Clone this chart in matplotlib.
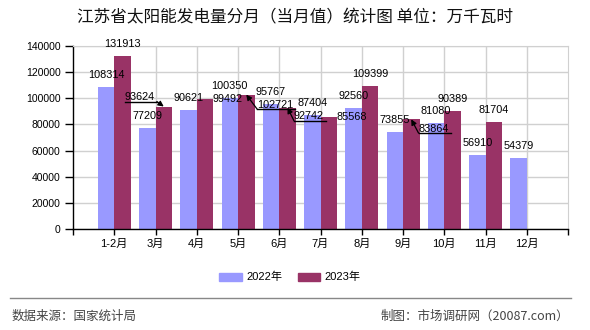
import matplotlib
matplotlib.use('Agg')
import matplotlib.pyplot as plt
from matplotlib.patches import Patch
from matplotlib.lines import Line2D
import numpy as np

plt.rcParams['font.family'] = ['Liberation Sans', 'Noto Sans CJK SC']

# ---- data ----
months = ['1-2月', '3月', '4月', '5月', '6月', '7月', '8月', '9月', '10月', '11月', '12月']
v2022 = [108314, 77209, 90621, 100350, 95767, 87404, 92560, 73855, 81080, 56910, 54379]
v2023 = [131913, 93624, 99492, 102721, 92742, 85568, 109399, 83864, 90389, 81704]
series_names = ['2022年', '2023年']
yticks = [0, 20000, 40000, 60000, 80000, 100000, 120000, 140000]
title = '江苏省太阳能发电量分月（当月值）统计图 单位：万千瓦时'
source = '数据来源：国家统计局'
credit = '制图：市场调研网（20087.com）'

# ---- style ----
c22 = '#9999FF'
c23 = '#993366'
grid_c = '#D0D0D0'
W, H = 590, 330

fig = plt.figure(figsize=(W / 100, H / 100), dpi=100)
ax = fig.add_axes([73 / W, (H - 229.3) / H, 495 / W, 183.6 / H])

x = np.arange(len(months))
w = 0.4
ax.bar(x - w / 2, v2022, w, color=c22, zorder=2)
x23 = x[:len(v2023)] + w / 2
ax.bar(x23, v2023, w, color=c23, zorder=2)

ax.set_xlim(-1, len(months))
ax.set_ylim(yticks[0], yticks[-1])
ax.set_yticks(yticks)
ax.set_yticklabels([str(t) for t in yticks])
ax.yaxis.grid(True, color=grid_c, lw=1, zorder=0)
ax.set_axisbelow(True)
for i in range(1, len(months)):
    ax.axvline(i, color=grid_c, lw=1, zorder=0)
ax.set_xticks(np.arange(-1, len(months) + 1))
ax.set_xticklabels([''] + months + [''])

for s in ['top', 'right']:
    ax.spines[s].set_color(grid_c)
for s in ['left', 'bottom']:
    ax.spines[s].set_color('black')
    ax.spines[s].set_linewidth(1)
ax.tick_params(axis='y', length=6, width=1, pad=3, labelsize=7.5)
ax.tick_params(axis='x', length=4, width=1, pad=3, labelsize=8)

# ---- value labels ----
special = {
    (1, 1): (-24, 9.5, 'right'),
    (1, 2): (22.5, 0, None),
    (1, 3): (29, -10, 'left'),
    (1, 4): (21.5, -8.6, 'left'),
    (1, 5): (23, 0, None),
    (1, 7): (22.5, -9.3, 'left'),
}
arrow_items = []
for si, (vals, xs) in enumerate([(v2022, x - w / 2), (v2023, x23)]):
    for i, v in enumerate(vals):
        dx, dy, side = special.get((si, i), (0, 12, None))
        t = ax.annotate(str(v), xy=(xs[i], v), xytext=(dx, dy), textcoords='offset pixels',
                        ha='center', va='center', fontsize=7.8, color='black', zorder=5)
        if side is not None:
            arrow_items.append((t, xs[i], v, side))

# ---- title / legend / footer ----
fig.text(295 / W, 1 - 17.5 / H, title, ha='center', va='center', fontsize=12,
         fontweight='medium', color='#111111', family=['Noto Sans CJK SC', 'DejaVu Sans'])

fig.legend(handles=[Patch(color=c22), Patch(color=c23)], labels=series_names,
           loc='center', bbox_to_anchor=(290 / W, 1 - 277.3 / H), ncol=2, frameon=False,
           fontsize=8, handlelength=2.0, handleheight=0.72, handletextpad=0.45,
           columnspacing=1.35)

fig.add_artist(Line2D([10 / W, 571 / W], [1 - 298 / H] * 2, color='#888888', lw=1))
fig.text(12 / W, 1 - 316 / H, source, ha='left', va='center', fontsize=9, color='#444444',
         family=['Noto Sans CJK SC', 'DejaVu Sans'])
fig.text(569 / W, 1 - 316 / H, credit, ha='right', va='center', fontsize=9, color='#444444',
         family=['Noto Sans CJK SC', 'DejaVu Sans'])

# ---- leader lines for moved labels ----
fig.canvas.draw()
renderer = fig.canvas.get_renderer()
for t, bx, bv, side in arrow_items:
    bb = t.get_window_extent(renderer)
    uy = bb.y0 + 0.5
    fig.add_artist(Line2D([bb.x0 / W, (bb.x1 + 2) / W], [uy / H, uy / H], color='black', lw=1))
    sx = bb.x1 + 2 if side == 'right' else bb.x0
    ax.annotate('', xy=(bx, bv), xytext=(sx, uy), textcoords='figure pixels',
                arrowprops=dict(arrowstyle='-|>', color='black', lw=0.9, mutation_scale=8,
                                shrinkA=0, shrinkB=0), zorder=6)

fig.savefig('out.png', dpi=100)
